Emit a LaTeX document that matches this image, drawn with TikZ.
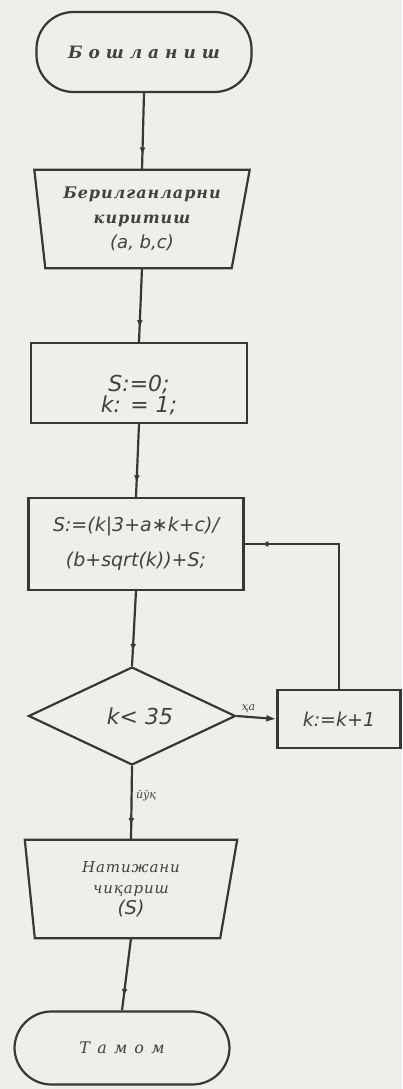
\documentclass[tikz,border=0pt]{standalone}
\usepackage{fontspec}
\setmainfont{DejaVu Serif}
\newfontfamily\startfont[LetterSpace=35]{DejaVu Serif}
\newfontfamily\endfont[LetterSpace=45]{DejaVu Serif}
\newfontfamily\wordfont[LetterSpace=6]{DejaVu Serif}
\newfontfamily\formfont{DejaVu Sans}
\usetikzlibrary{shapes.geometric,arrows.meta,decorations.markings}
\definecolor{ink}{RGB}{55,55,55}
\definecolor{paper}{RGB}{238,238,235}
\definecolor{txt}{RGB}{65,65,65}
\begin{document}
\begin{tikzpicture}[x=1pt,y=-1pt,
  every node/.style={text=txt},
  line/.style={draw=ink,line width=2.2pt},
  midarrow/.style={line,postaction={decorate},decoration={markings,
     mark=at position 0.8 with {\arrow{Latex[length=7pt,width=6pt]}}}},
  termbox/.style={line,rounded corners=37pt,minimum width=215pt,inner sep=0pt},
  procbox/.style={line,minimum width=#1,inner sep=0pt,align=center},
  ghost/.style={inner sep=0pt,align=center},
  decbox/.style={line,diamond,inner sep=0pt,minimum width=207pt,minimum height=98pt},
  lbl/.style={font=\itshape\fontsize{11}{11}\selectfont,text=txt}
]
\fill[paper] (0,0) rectangle (402,1089);
\useasboundingbox (0,0) rectangle (402,1089);

% start
\node[termbox,minimum height=80pt,font=\startfont\bfseries\itshape\fontsize{17}{17}\selectfont] (start) at (144,52)
  {Бошланиш};

% input
\node[ghost,minimum width=215pt,minimum height=98pt,
      font=\wordfont\bfseries\itshape\fontsize{16}{25}\selectfont] (in) at (142,219)
  {Берилганларни\\ киритиш\\ {\formfont\mdseries\itshape\fontsize{18}{18}\selectfont (a, b,c)}};
\draw[line] (in.north west) -- (in.north east) -- ([xshift=-18pt]in.south east)
  -- ([xshift=11pt]in.south west) -- cycle;

% init
\node[procbox=216pt,minimum height=80pt] (init) at (139,383) {};
\node[ghost,font=\formfont\itshape\fontsize{22}{19}\selectfont] (initt) at ([yshift=-12pt]init.center)
  {S:=0;\\ k: = 1;};

% formula
\node[procbox=215pt,minimum height=92pt,font=\formfont\itshape\fontsize{19}{35}\selectfont] (form) at (136,544)
  {S:=(k|3+a∗k+c)/\\ (b+sqrt(k))+S;};

% decision
\node[decbox] (dec) at (132,716) {};
\node[ghost,font=\formfont\itshape\fontsize{22}{22}\selectfont] (dect) at ([xshift=8pt]dec.center) {k< 35};

% increment
\node[procbox=123pt,minimum height=58pt,font=\formfont\itshape\fontsize{19}{19}\selectfont] (inc) at (339,719)
  {k:=k+1};

% output
\node[ghost,minimum width=212pt,minimum height=98pt,
      font=\wordfont\itshape\fontsize{15}{21}\selectfont] (out) at (131,889)
  {Натижани\\ чиқариш\\ {\formfont\itshape\fontsize{19}{26}\selectfont (S)}};
\draw[line] (out.north west) -- (out.north east) -- ([xshift=-17pt]out.south east)
  -- ([xshift=10pt]out.south west) -- cycle;

% end
\node[termbox,minimum height=73pt,font=\endfont\itshape\fontsize{16}{16}\selectfont] (stop) at (122,1048)
  {Тамом};

% connectors
\draw[midarrow] (start.south) -- (in.north);
\draw[midarrow] (in.south) -- (init.north);
\draw[midarrow] (init.south) -- (form.north);
\draw[midarrow] (form.south) -- (dec.north);
\draw[line,-{Latex[length=10pt,width=7pt]}] (dec.east) -- node[lbl,above,pos=0.3] {ҳа} (inc.west);
\draw[line,postaction={decorate},decoration={markings,
     mark=at position 0.93 with {\arrow{Latex[length=7pt,width=6pt]}}}]
  (inc.north) |- (form.east);
\draw[midarrow] (dec.south) -- node[lbl,right,pos=0.4] {йўқ} (out.north);
\draw[midarrow] (out.south) -- (stop.north);
\end{tikzpicture}
\end{document}
